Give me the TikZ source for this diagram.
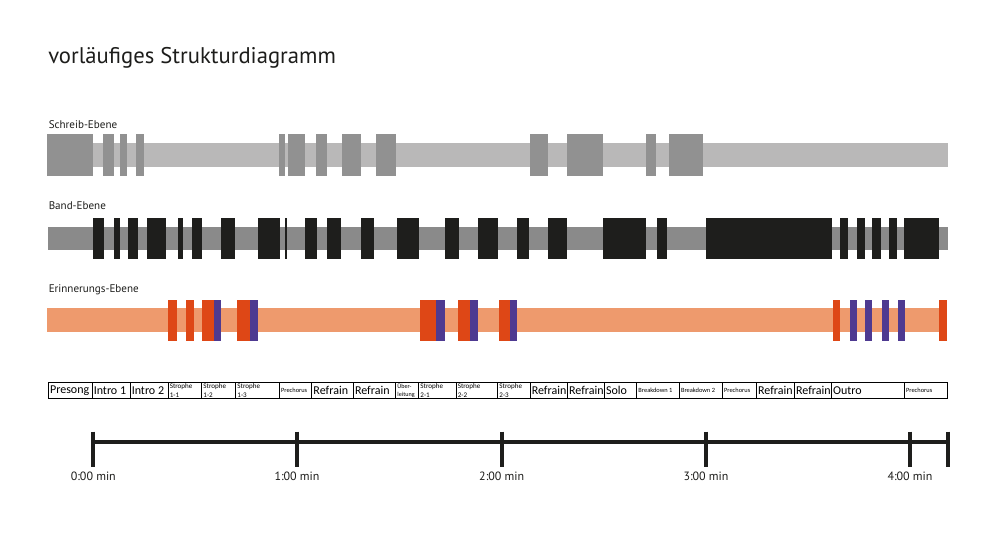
\documentclass[tikz,border=0pt]{standalone}
\usepackage{fontspec}
\setmainfont{Carlito}
\newfontfamily\labf{PT Sans}
\definecolor{sbar}{HTML}{B9B8B8}
\definecolor{sblk}{HTML}{919191}
\definecolor{bbar}{HTML}{8A8A8A}
\definecolor{bblk}{HTML}{1E1E1C}
\definecolor{ebar}{HTML}{EE9A6D}
\definecolor{eorg}{HTML}{DE4716}
\definecolor{epur}{HTML}{4E3A91}
\definecolor{txt}{HTML}{1D1D1B}
\tikzset{
  lvl/.style={anchor=west,inner sep=0pt,font=\labf\fontsize{8.3}{9}\selectfont,text=txt},
  cellbox/.style={draw=black,line width=0.6pt},
  cbig/.style={anchor=west,inner sep=0pt,font=\fontsize{9}{10}\selectfont},
  ctiny/.style={anchor=west,inner sep=0pt,font=\fontsize{4.8}{5}\selectfont},
  ctwo/.style={anchor=west,inner sep=0pt,align=left,font=\fontsize{5.3}{6.2}\selectfont},
  cfour/.style={anchor=west,inner sep=0pt,align=left,font=\fontsize{4.6}{5.8}\selectfont},
  axisline/.style={line width=3pt,draw=bblk},
  tickline/.style={line width=3pt,draw=bblk},
  tlab/.style={inner sep=0pt,font=\labf\fontsize{9}{10}\selectfont,text=txt},
}
\begin{document}
\begin{tikzpicture}[x=0.75pt,y=-0.75pt]
\useasboundingbox (0,0) rectangle (1000,548);
% title
\node[anchor=west,inner sep=0pt,font=\labf\fontsize{17}{18}\selectfont,text=txt] (title) at (48,58) {vorläufiges Strukturdiagramm};
% Schreib-Ebene
\node[lvl] (ls) at (48.5,125) {Schreib-Ebene};
\fill[sbar] (47.3,143.3) rectangle (947.7,167.3);
\foreach \a/\b in {47.3/92.7,103.3/113.7,119.7/127.3,136.3/144,279.3/284.7,288.3/305.3,316.3/326.7,342/361.3,375.7/396,530/548.3,566.7/602.7,646/656,669/702.7}
  \fill[sblk] (\a,134.3) rectangle (\b,175.7);
% Band-Ebene
\node[lvl] (lb) at (48.5,205.7) {Band-Ebene};
\fill[bbar] (48.3,226.7) rectangle (947.7,250);
\foreach \a/\b in {93.3/103.7,114/120,128.3/137.7,147.3/166,177.7/183.3,192.3/201.7,220.7/235.3,257.7/280,284.7/287,305.3/317,326.7/341.3,361.3/374.3,396.7/419,445/458.7,478/497.7,516.7/529,548.3/566.7,603/646,656.7/666.7,706.3/832,840/848.3,856.7/865,872.3/880.7,889/897.3,904/939}
  \fill[bblk] (\a,217.7) rectangle (\b,259);
% Erinnerungs-Ebene
\node[lvl] (le) at (48.5,290) {Erinnerungs-Ebene};
\fill[ebar] (47.3,308.3) rectangle (946,332.3);
\foreach \a/\b in {168/177.3,186.3/193.7,202/214.3,237/250.3,419.7/436,458/470,498.7/510.3,833/840,939.3/947}
  \fill[eorg] (\a,300) rectangle (\b,341);
\foreach \a/\b in {214.3/220.7,250.3/258,436/445,470/478.3,510.3/516.7,849.7/856.7,865.3/872.3,882/889,898.3/905.3}
  \fill[epur] (\a,300) rectangle (\b,341);
% sections
\foreach \a/\b/\t/\s [count=\i] in {48.3/92/Presong/cbig,92/130/Intro 1/cbig,130/168/Intro 2/cbig,168/201.7/{Strophe\\1-1}/ctwo,201.7/235.7/{Strophe\\1-2}/ctwo,235.7/279.3/{Strophe\\1-3}/ctwo,279.3/311.7/Prechorus/ctiny,311.7/353.3/Refrain/cbig,353.3/395.7/Refrain/cbig,395.7/418.7/{Über-\\leitung}/cfour,418.7/456/{Strophe\\2-1}/ctwo,456/497.7/{Strophe\\2-2}/ctwo,497.7/530/{Strophe\\2-3}/ctwo,530/567.3/Refrain/cbig,567.3/604.3/Refrain/cbig,604.3/636.7/Solo/cbig,636.7/679.3/Breakdown 1/ctiny,679.3/722.3/Breakdown 2/ctiny,722.3/756.3/Prechorus/ctiny,756.3/794.3/Refrain/cbig,794.3/831.3/Refrain/cbig,831.3/904.3/Outro/cbig,904.3/947.3/Prechorus/ctiny}
{
  \draw[cellbox] (\a,382.5) rectangle (\b,398.5);
  \node[\s] (c\i) at (\a+1.5,390.6) {\t};
}
% timeline
\coordinate (t0) at (93.3,441.7);
\coordinate (t1) at (297,441.7);
\coordinate (t2) at (501.7,441.7);
\coordinate (t3) at (706,441.7);
\coordinate (t4) at (910,441.7);
\coordinate (tend) at (947.7,441.7);
\draw[axisline] (t0) -- (tend);
\foreach \n in {t0,t1,t2,t3,t4,tend}
  \draw[tickline] ([yshift=7.5pt]\n) -- ([yshift=-18.75pt]\n);
\node[tlab] (l0) at ([yshift=-26.25pt]t0) {0:00 min};
\node[tlab] (l1) at ([yshift=-26.25pt]t1) {1:00 min};
\node[tlab] (l2) at ([yshift=-26.25pt]t2) {2:00 min};
\node[tlab] (l3) at ([yshift=-26.25pt]t3) {3:00 min};
\node[tlab] (l4) at ([yshift=-26.25pt]t4) {4:00 min};
\end{tikzpicture}
\end{document}
